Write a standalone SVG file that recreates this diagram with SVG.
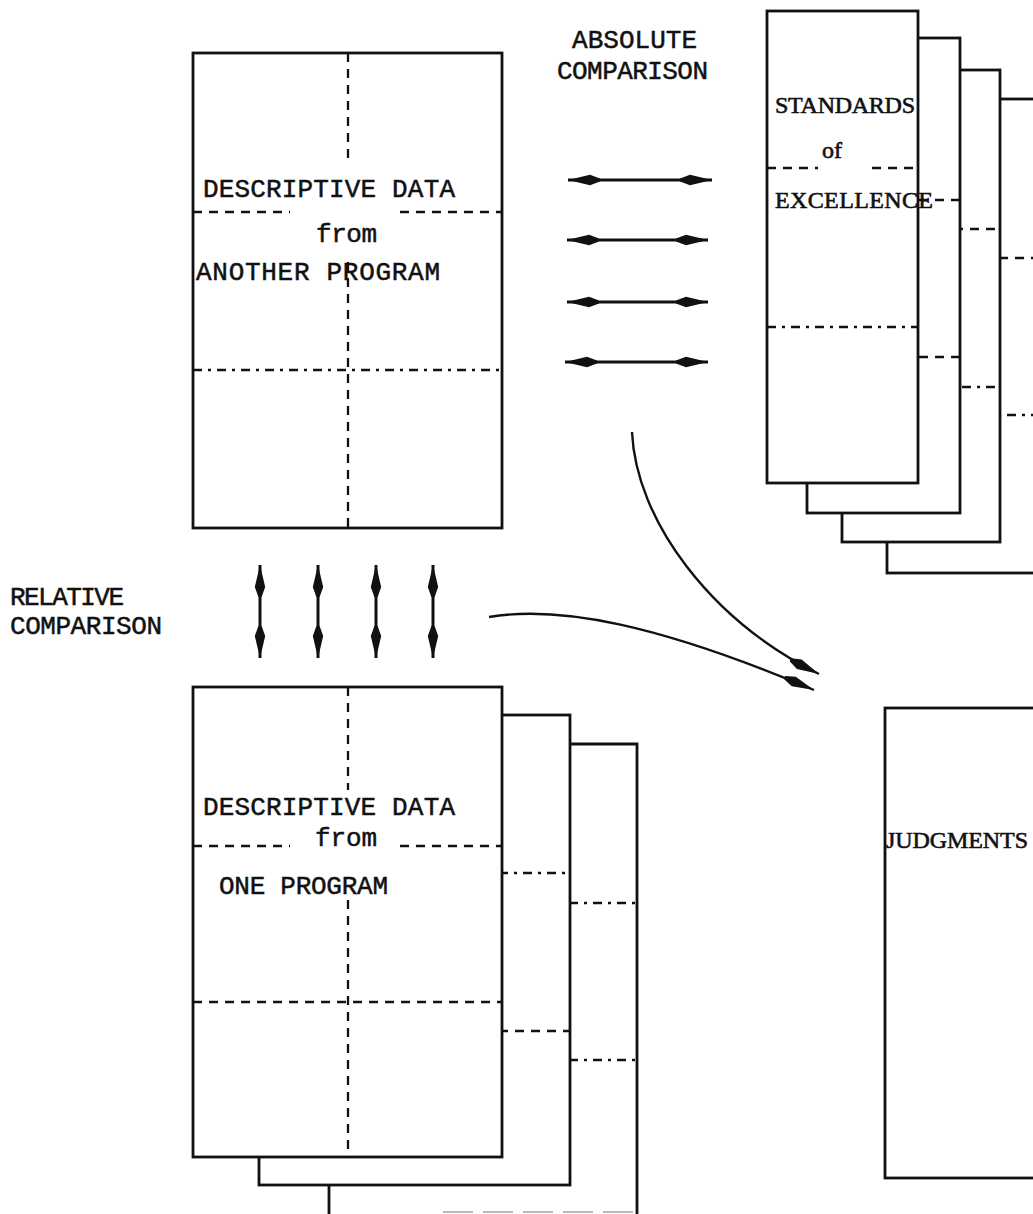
<svg xmlns="http://www.w3.org/2000/svg" width="1033" height="1214" viewBox="0 0 1033 1214">
<defs>
<style>
.box{fill:#fff;stroke:#111;stroke-width:2.8;stroke-linejoin:miter}
.dash{fill:none;stroke:#111;stroke-width:2.3;stroke-dasharray:9 7}
.dd{fill:none;stroke:#111;stroke-width:2.3;stroke-dasharray:9 6 3 6}
.tw{font-family:"Liberation Mono","DejaVu Sans Mono",monospace;font-size:26px;fill:#111;stroke:#111;stroke-width:0.5}
.sf{font-family:"Liberation Serif","DejaVu Serif",serif;font-size:24px;fill:#111;stroke:#111;stroke-width:0.6}
.arr{fill:none;stroke:#111;stroke-width:3}
.crv{fill:none;stroke:#111;stroke-width:2.4}
</style>
<marker id="sp" viewBox="0 -6 32 12" refX="32" refY="0" markerWidth="32" markerHeight="12" markerUnits="userSpaceOnUse" orient="auto-start-reverse">
<path d="M32,0 L10,-5.2 L0,-1.6 L0,1.6 L10,5.2 Z" fill="#111"/>
</marker>
</defs>
<rect width="1033" height="1214" fill="#fff"/>

<text class="tw" x="572" y="48" textLength="125">ABSOLUTE</text>
<text class="tw" x="557" y="79" textLength="151">COMPARISON</text>
<text class="tw" x="10" y="605" textLength="114">RELATIVE</text>
<text class="tw" x="10" y="634" textLength="152">COMPARISON</text>

<g id="another-program">
<rect class="box" x="193" y="53" width="309" height="475"/>
<line class="dash" x1="348" y1="53" x2="348" y2="160"/>
<line class="dash" x1="348" y1="262" x2="348" y2="528"/>
<line class="dash" x1="193" y1="212" x2="290" y2="212"/>
<line class="dash" x1="400" y1="212" x2="502" y2="212"/>
<line class="dd" x1="193" y1="370" x2="502" y2="370"/>
<text class="tw" x="203" y="197" textLength="252">DESCRIPTIVE DATA</text>
<text class="tw" x="316" y="242" textLength="61">from</text>
<text class="tw" x="196" y="280" textLength="244">ANOTHER PROGRAM</text>
</g>

<g id="standards">
<rect class="box" x="887" y="99" width="160" height="474"/>
<line class="dash" x1="887" y1="258" x2="1040" y2="258"/>
<line class="dd" x1="887" y1="415" x2="1040" y2="415"/>
<rect class="box" x="842" y="70" width="158" height="472"/>
<line class="dash" x1="842" y1="229" x2="1000" y2="229"/>
<line class="dd" x1="842" y1="387" x2="1000" y2="387"/>
<rect class="box" x="807" y="38" width="153" height="475"/>
<line class="dash" x1="807" y1="200" x2="960" y2="200"/>
<line class="dash" x1="807" y1="357" x2="960" y2="357"/>
<rect class="box" x="767" y="11" width="151" height="472"/>
<line class="dash" x1="767" y1="168" x2="818" y2="168"/>
<line class="dash" x1="872" y1="168" x2="918" y2="168"/>
<line class="dd" x1="767" y1="327" x2="918" y2="327"/>
<text class="sf" x="775" y="113" textLength="140">STANDARDS</text>
<text class="sf" x="822" y="158" font-size="26">of</text>
<text class="sf" x="775" y="208" textLength="158">EXCELLENCE</text>
</g>

<g id="one-program">
<path class="box" d="M329,1214 L329,744 L637,744 L637,1214"/>
<line class="dd" x1="329" y1="903" x2="637" y2="903"/>
<line class="dd" x1="329" y1="1060" x2="637" y2="1060"/>
<line x1="443" y1="1212" x2="637" y2="1212" stroke="#bbb" stroke-width="2" stroke-dasharray="30 10"/>
<rect class="box" x="259" y="715" width="311" height="470"/>
<line class="dd" x1="259" y1="873" x2="570" y2="873"/>
<line class="dash" x1="259" y1="1031" x2="570" y2="1031"/>
<rect class="box" x="193" y="687" width="309" height="470"/>
<line class="dash" x1="348" y1="687" x2="348" y2="790"/>
<line class="dash" x1="348" y1="900" x2="348" y2="1157"/>
<line class="dash" x1="193" y1="846" x2="290" y2="846"/>
<line class="dash" x1="400" y1="846" x2="502" y2="846"/>
<line class="dash" x1="193" y1="1002" x2="502" y2="1002"/>
<text class="tw" x="203" y="815" textLength="252">DESCRIPTIVE DATA</text>
<text class="tw" x="315" y="846" textLength="62">from</text>
<text class="tw" x="219" y="894" textLength="169">ONE PROGRAM</text>
</g>

<g id="judgments">
<rect class="box" x="885" y="708" width="160" height="470"/>
<text class="sf" x="886" y="848" textLength="142">JUDGMENTS</text>
</g>

<g id="connectors">
<line class="arr" x1="568" y1="180" x2="712" y2="180" marker-start="url(#sp)" marker-end="url(#sp)"/>
<line class="arr" x1="567" y1="240" x2="708" y2="240" marker-start="url(#sp)" marker-end="url(#sp)"/>
<line class="arr" x1="567" y1="302" x2="708" y2="302" marker-start="url(#sp)" marker-end="url(#sp)"/>
<line class="arr" x1="565" y1="362" x2="708" y2="362" marker-start="url(#sp)" marker-end="url(#sp)"/>
<line class="arr" x1="260" y1="565" x2="260" y2="658" marker-start="url(#sp)" marker-end="url(#sp)"/>
<line class="arr" x1="318" y1="565" x2="318" y2="658" marker-start="url(#sp)" marker-end="url(#sp)"/>
<line class="arr" x1="376" y1="565" x2="376" y2="658" marker-start="url(#sp)" marker-end="url(#sp)"/>
<line class="arr" x1="433" y1="565" x2="433" y2="658" marker-start="url(#sp)" marker-end="url(#sp)"/>
<path class="crv" d="M632,432 C636,520 710,620 819,674" marker-end="url(#sp)"/>
<path class="crv" d="M489,617 C560,605 660,625 814,690" marker-end="url(#sp)"/>
</g>
</svg>
